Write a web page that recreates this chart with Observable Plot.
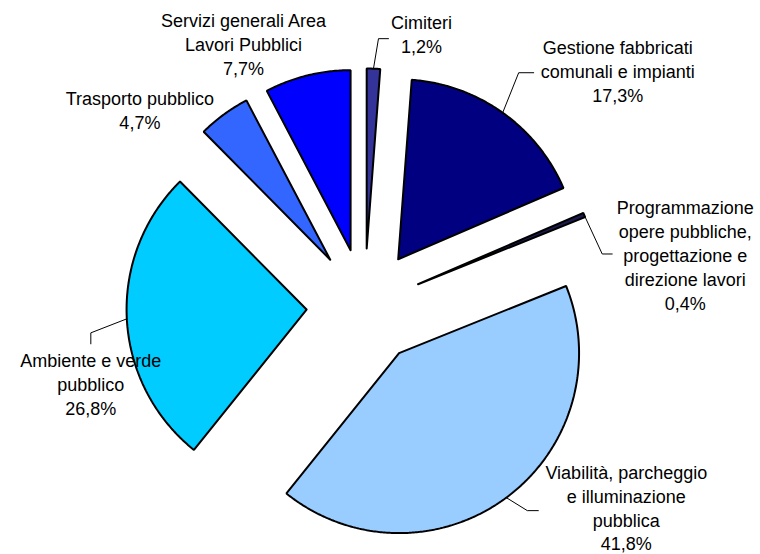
<!DOCTYPE html>
<html>
<head>
<meta charset="utf-8">
<script src="https://cdn.jsdelivr.net/npm/d3@7"></script>
<script src="https://cdn.jsdelivr.net/npm/@observablehq/plot@0.6"></script>
<style>
  html, body { margin: 0; padding: 0; background: #fff; }
  #chart { width: 760px; height: 554px; }
</style>
</head>
<body>
<div id="chart"></div>
<script>
// ---- Data ----
const categories = [
  "Cimiteri",
  "Gestione fabbricati\ncomunali e impianti",
  "Programmazione\nopere pubbliche,\nprogettazione e\ndirezione lavori",
  "Viabilità, parcheggio\ne illuminazione\npubblica",
  "Ambiente e verde\npubblico",
  "Trasporto pubblico",
  "Servizi generali Area\nLavori Pubblici"
];
const values = [1.2, 17.3, 0.4, 41.8, 26.8, 4.7, 7.7];
const colors = ["#333399", "#000080", "#1a1a4d", "#99CCFF", "#00CCFF", "#3366FF", "#0000FF"];

// ---- Layout (pixels) ----
const W = 760, H = 554;
const CX = 364, CY = 306, R = 180, EXPLODE = 58;
const FONT = 18, LH = 1.33;
// label first-baseline centre, offset from each slice's outer-arc midpoint
const labelOffset = [[48, -40], [115, -59], [101, -1], [120, -19], [-36, 48], [-84, -9], [-64, -48]];
// leader elbow / end, relative to the label anchor
const leaderElbow = [[-43, 10], [-99, 19], [-83, 40], [-99, 32], [0, -34], null, null];
const leaderEnd   = [[-33, 10], [-84, 19], [-73, 40], [-88, 32], [0, -23], null, null];

const fmt = v => d3.format(".1f")(v).replace(".", ",") + "%";
const polar = (a, r) => [r * Math.sin(a), -r * Math.cos(a)];

const total = d3.sum(values);
let acc = 0;
const slices = values.map((v, i) => {
  const a0 = acc / total * 2 * Math.PI;
  acc += v;
  const a1 = acc / total * 2 * Math.PI;
  const mid = (a0 + a1) / 2;
  const [ax, ay] = polar(mid, EXPLODE);
  const [ox, oy] = polar(mid, R);
  return {i, name: categories[i], a0, a1, mid, ax, ay, outer: [ax + ox, ay + oy]};
});

const polyPts = [];
for (const s of slices) {
  polyPts.push({name: s.name, x: s.ax, y: s.ay});
  const n = Math.max(2, Math.ceil((s.a1 - s.a0) / (Math.PI / 360)));
  for (let k = 0; k <= n; ++k) {
    const a = s.a0 + (s.a1 - s.a0) * k / n;
    const [px, py] = polar(a, R);
    polyPts.push({name: s.name, x: s.ax + px, y: s.ay + py});
  }
  polyPts.push({name: s.name, x: s.ax, y: s.ay});
}

const labels = slices.map(s => {
  const [dx, dy] = labelOffset[s.i];
  return {
    name: s.name,
    x: s.outer[0] + dx,
    y: s.outer[1] + dy,
    text: s.name + "\n" + fmt(values[s.i])
  };
});

const leaderPts = [];
for (const s of slices) {
  if (!leaderElbow[s.i]) continue;
  const L = labels[s.i];
  leaderPts.push({name: s.name, x: s.outer[0], y: s.outer[1]});
  leaderPts.push({name: s.name, x: L.x + leaderElbow[s.i][0], y: L.y + leaderElbow[s.i][1]});
  leaderPts.push({name: s.name, x: L.x + leaderEnd[s.i][0], y: L.y + leaderEnd[s.i][1]});
}

const firstBaseline = 0.71 * LH * FONT;

const chart = Plot.plot({
  width: W,
  height: H,
  margin: 0,
  x: {domain: [-CX, W - CX], range: [0, W], axis: null},
  y: {domain: [-CY, H - CY], range: [0, H], axis: null},
  color: {type: "ordinal", domain: categories, range: colors},
  style: {fontFamily: "'Liberation Sans', Arial, sans-serif", background: "#fff"},
  marks: [
    Plot.line(leaderPts, {x: "x", y: "y", z: "name", stroke: "#000", strokeWidth: 1, curve: "linear"}),
    Plot.line(polyPts, {
      x: "x", y: "y", z: "name", fill: "name",
      stroke: "#000", strokeWidth: 2, strokeLinejoin: "miter", curve: "linear"
    }),
    Plot.text(labels, {
      x: "x", y: d => d.y - firstBaseline, text: "text",
      textAnchor: "middle", lineAnchor: "top", lineHeight: LH,
      fontSize: FONT, fill: "#000"
    })
  ]
});
document.getElementById("chart").appendChild(chart);
</script>
</body>
</html>
